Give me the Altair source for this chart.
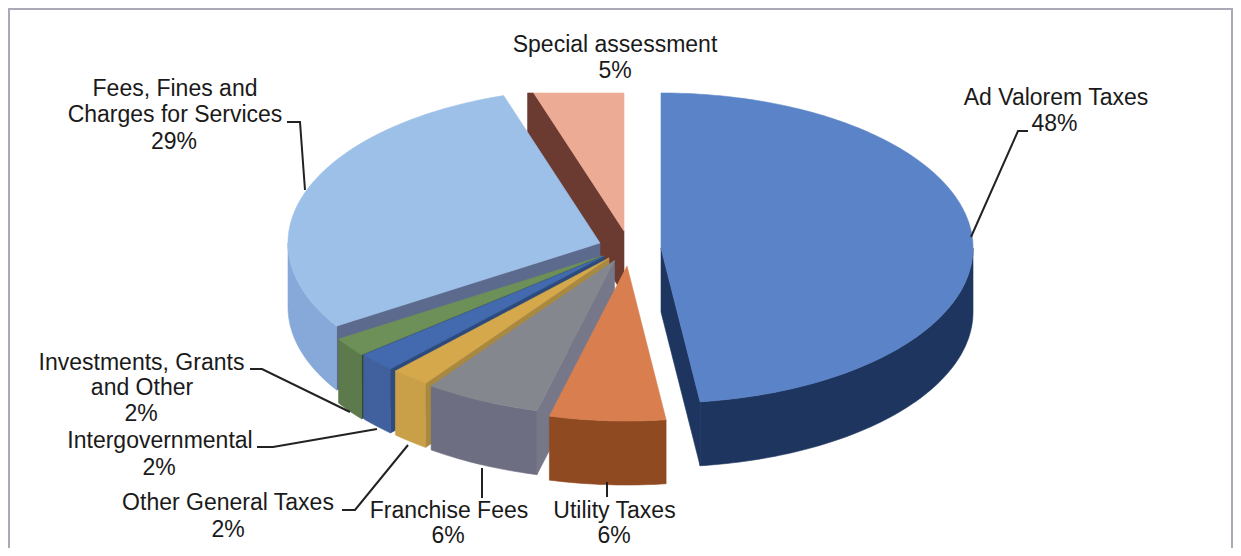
import math
import altair as alt
import pandas as pd

# ---- chart values ----
categories = ["Ad Valorem Taxes", "Utility Taxes", "Franchise Fees", "Other General Taxes",
              "Intergovernmental", "Investments, Grants and Other",
              "Fees, Fines and Charges for Services", "Special assessment"]
shares = [48, 6, 6, 2, 2, 2, 29, 5]

# ---- styling of the tilted, exploded pie ----
top_colors = ["#5b83c7", "#d97f4f", "#85878f", "#d6a84c", "#4369ae", "#6d8f58", "#9dc0e8", "#ecab95"]
wall_colors = ["#1e3560", "#8f4a22", "#6e6e82", "#c9a047", "#40609e", "#5c7a4c", "#86a9d9", "#6b3a30"]
face_colors = ["#1e3560", "#8f4a22", "#77778a", "#a8893f", "#2c4a7c", "#33472f", "#5c6a8e", "#6b3a30"]
centers = [(661, 248), (627, 266), (614.5, 260.5), (609, 258), (604, 256), (602, 256), (600, 243), (624, 231)]
RX, RY, DEPTH, CLIP_TOP = 312, 155, 64, 93
W, H = 1225, 540
draw_order = [7, 6, 5, 4, 3, 2, 1, 0]


def pt(c, deg, drop=0):
    a = math.radians(deg)
    return (c[0] + RX * math.sin(a), c[1] - RY * math.cos(a) + drop)


def clip(poly):
    out = []
    for i, p in enumerate(poly):
        q = poly[(i + 1) % len(poly)]
        if p[1] >= CLIP_TOP:
            out.append(p)
        if (p[1] >= CLIP_TOP) != (q[1] >= CLIP_TOP):
            t = (CLIP_TOP - p[1]) / (q[1] - p[1])
            out.append((p[0] + t * (q[0] - p[0]), CLIP_TOP))
    return out


def feature(poly, color):
    ring = [list(p) for p in clip(poly)]
    ring.append(ring[0])
    return {"type": "Feature", "geometry": {"type": "Polygon", "coordinates": [ring]},
            "properties": {"fill": color}}


starts, acc = [], 0
for s in shares:
    starts.append(acc * 3.6)
    acc += s

features = []
for i in draw_order:
    c, a0, a1 = centers[i], starts[i], starts[i] + shares[i] * 3.6
    if 0 < a1 < 180:      # closing cut face
        features.append(feature([c, pt(c, a1), pt(c, a1, DEPTH), (c[0], c[1] + DEPTH)], face_colors[i]))
    if 180 < a0 < 360:    # opening cut face
        features.append(feature([c, pt(c, a0), pt(c, a0, DEPTH), (c[0], c[1] + DEPTH)], face_colors[i]))
    lo, hi = max(a0, 90), min(a1, 270)
    if hi > lo:           # outer wall
        n = max(2, int(hi - lo))
        arc = [lo + (hi - lo) * k / n for k in range(n + 1)]
        features.append(feature([pt(c, a) for a in arc] + [pt(c, a, DEPTH) for a in reversed(arc)], wall_colors[i]))
    n = max(2, int(a1 - a0))
    arc = [a0 + (a1 - a0) * k / n for k in range(n + 1)]
    features.append(feature([c] + [pt(c, a) for a in arc], top_colors[i]))

pie = alt.Chart(alt.Data(values=features)).mark_geoshape(strokeWidth=0.6).encode(
    fill=alt.Fill("properties.fill:N", scale=None),
    stroke=alt.Stroke("properties.fill:N", scale=None),
).project(type="identity", scale=1, translate=[-8, -8])

x_scale = alt.Scale(domain=[8, 8 + W], range=[0, W], nice=False, padding=0)
y_scale = alt.Scale(domain=[8, 8 + H], range=[0, H], nice=False, padding=0)
no_axis = dict(axis=None)

# ---- frame ----
frame_path = [(9, 548), (9, 9), (1232, 9), (1232, 548)]
frame = alt.Chart(pd.DataFrame({"x": [p[0] for p in frame_path], "y": [p[1] for p in frame_path],
                                "o": range(4)})).mark_line(color="#a9a9b8", strokeWidth=2).encode(
    x=alt.X("x:Q", scale=x_scale, **no_axis), y=alt.Y("y:Q", scale=y_scale, **no_axis), order="o:Q")

# ---- leader lines ----
leaders = [
    [(971, 237), (1018, 131), (1028, 131)],
    [(305, 190), (300, 122), (287, 122)],
    [(350, 412), (262, 369), (250, 369)],
    [(377, 429), (273, 447), (257, 447)],
    [(408, 445), (355, 510), (342, 510)],
    [(482, 468), (482, 498)],
    [(607, 482), (607, 497)],
]
rows = [{"x": p[0], "y": p[1], "id": i, "o": k} for i, l in enumerate(leaders) for k, p in enumerate(l)]
lines = alt.Chart(pd.DataFrame(rows)).mark_line(color="#222222", strokeWidth=2).encode(
    x=alt.X("x:Q", scale=x_scale, **no_axis), y=alt.Y("y:Q", scale=y_scale, **no_axis),
    detail="id:N", order="o:Q")

# ---- labels ----
label_lines = [
    ("Special assessment", 615, 45), ("5%", 615, 71),
    ("Ad Valorem Taxes", 1056, 98), ("48%", 1054.5, 124),
    ("Fees, Fines and", 175, 89), ("Charges for Services", 175, 115), ("29%", 174, 142),
    ("Investments, Grants", 141.5, 363), ("and Other", 142, 388), ("2%", 141, 414),
    ("Intergovernmental", 160, 441), ("2%", 159, 468),
    ("Other General Taxes", 228, 503), ("2%", 228, 530),
    ("Franchise Fees", 449, 511), ("6%", 448, 536),
    ("Utility Taxes", 614.5, 511), ("6%", 614, 536),
]
texts = alt.Chart(pd.DataFrame(label_lines, columns=["t", "x", "y"])).mark_text(
    font="Liberation Sans", fontSize=23, color="#1a1a1a", align="center", baseline="middle").encode(
    x=alt.X("x:Q", scale=x_scale, **no_axis), y=alt.Y("y:Q", scale=y_scale, **no_axis), text="t:N")

chart = alt.layer(pie, frame, lines, texts).properties(
    width=W, height=H, padding=0, background="#ffffff",
    autosize=alt.AutoSizeParams(type="none")
).configure_view(stroke=None)

chart.save("out.html", embed_options={"renderer": "svg", "actions": False})
